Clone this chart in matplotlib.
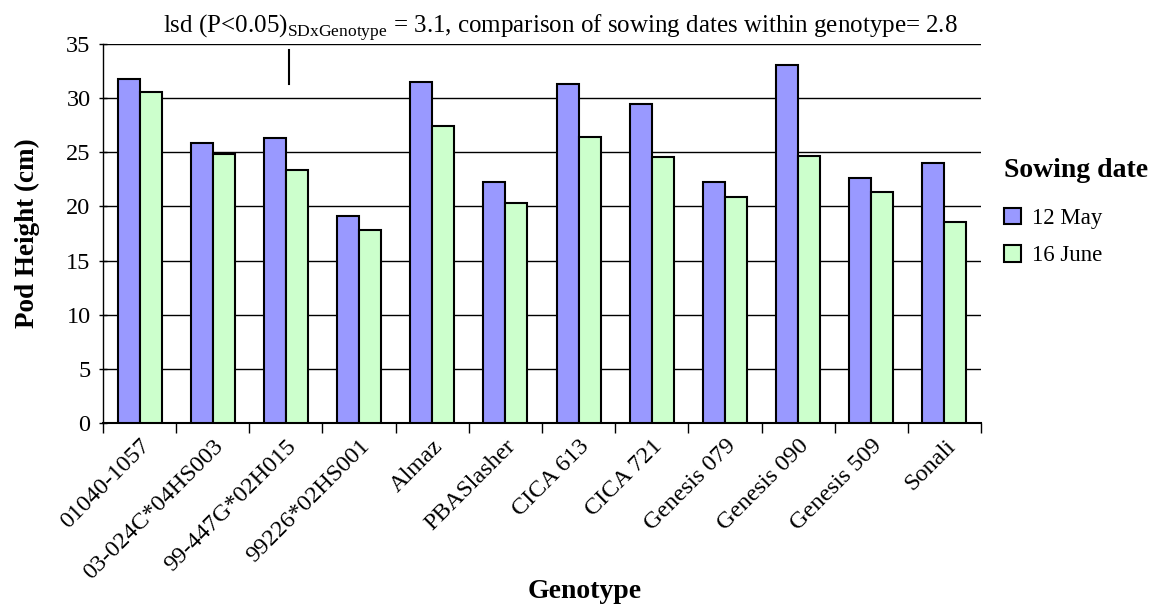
import matplotlib
matplotlib.use("Agg")
import matplotlib.pyplot as plt
import numpy as np

genotypes = ["01040-1057", "03-024C*04HS003", "99-447G*02H015", "99226*02HS001",
             "Almaz", "PBASlasher", "CICA 613", "CICA 721", "Genesis 079",
             "Genesis 090", "Genesis 509", "Sonali"]
may12 = [31.8, 25.9, 26.3, 19.1, 31.5, 22.3, 31.3, 29.5, 22.3, 33.1, 22.6, 24.0]
june16 = [30.6, 24.8, 23.4, 17.8, 27.4, 20.3, 26.4, 24.6, 20.9, 24.7, 21.3, 18.6]
series_labels = ["12 May", "16 June"]
lsd_value = 3.1
lsd_x = 2.04
lsd_top = 34.4

plt.rcParams['font.family'] = ['Liberation Serif', 'DejaVu Serif']
plt.rcParams['mathtext.fontset'] = 'custom'
plt.rcParams['mathtext.rm'] = 'Liberation Serif'

fig = plt.figure(figsize=(11.56, 6.05), dpi=100)
ax = fig.add_axes([103/1156, 1-423/605, (981-103)/1156, (423-44)/605])

x = np.arange(len(genotypes))
w = 0.3
ax.bar(x - w/2, may12, w, color="#9999FF", edgecolor="black", linewidth=1.5,
       label=series_labels[0], zorder=3)
ax.bar(x + w/2, june16, w, color="#CCFFCC", edgecolor="black", linewidth=1.5,
       label=series_labels[1], zorder=3)

ax.set_xlim(-0.5, len(genotypes) - 0.5)
ax.set_ylim(0, 35)
ax.set_yticks(np.arange(0, 36, 5))
ax.yaxis.grid(True, color="black", linewidth=1, zorder=0)
ax.set_axisbelow(True)
for s in ["top", "right"]:
    ax.spines[s].set_visible(False)
ax.spines["left"].set_linewidth(1)
ax.spines["bottom"].set_linewidth(1.5)

ax.set_xticks(np.arange(-0.5, len(genotypes)), minor=False)
ax.set_xticklabels([])
ax.set_xticks(x, minor=True)
ax.set_xticklabels(genotypes, minor=True, rotation=45, ha="right",
                   rotation_mode="anchor", fontsize=17.5)
ax.tick_params(axis="x", which="minor", length=0, pad=9)
ax.tick_params(axis="x", which="major", length=7, width=1, direction="out")
ax.tick_params(axis="y", length=6, width=1, direction="inout", labelsize=17.5, pad=6)

# lsd bar
ax.plot([lsd_x, lsd_x], [lsd_top - lsd_value, lsd_top], color="black", linewidth=1.5, zorder=4)

ax.set_ylabel("Pod Height (cm)", fontsize=19.5, fontweight="bold", labelpad=19)
fig.text(585/1156, 1-592/605, "Genotype", fontsize=20, fontweight="bold",
         ha="center", va="center")

fig.text(560/1156, 1-28/605,
         r"lsd (P<0.05)$_{\mathrm{SDxGenotype}}$ = 3.1, comparison of sowing dates within genotype= 2.8",
         fontsize=18, ha="center", va="center")

leg = ax.legend(loc="upper left", bbox_to_anchor=(983/1156, 1-137/605),
                bbox_transform=fig.transFigure, frameon=False, fontsize=16.5,
                title="Sowing date", title_fontproperties={"size": 20, "weight": "bold"},
                handlelength=0.75, handleheight=0.75, handletextpad=0.5, labelspacing=0.7)
leg._legend_box.align = "left"
leg._legend_box.sep = 18
# indent the entries relative to the title
leg._legend_handle_box.set_offset = leg._legend_handle_box.set_offset

fig.savefig("out.png", dpi=100)
